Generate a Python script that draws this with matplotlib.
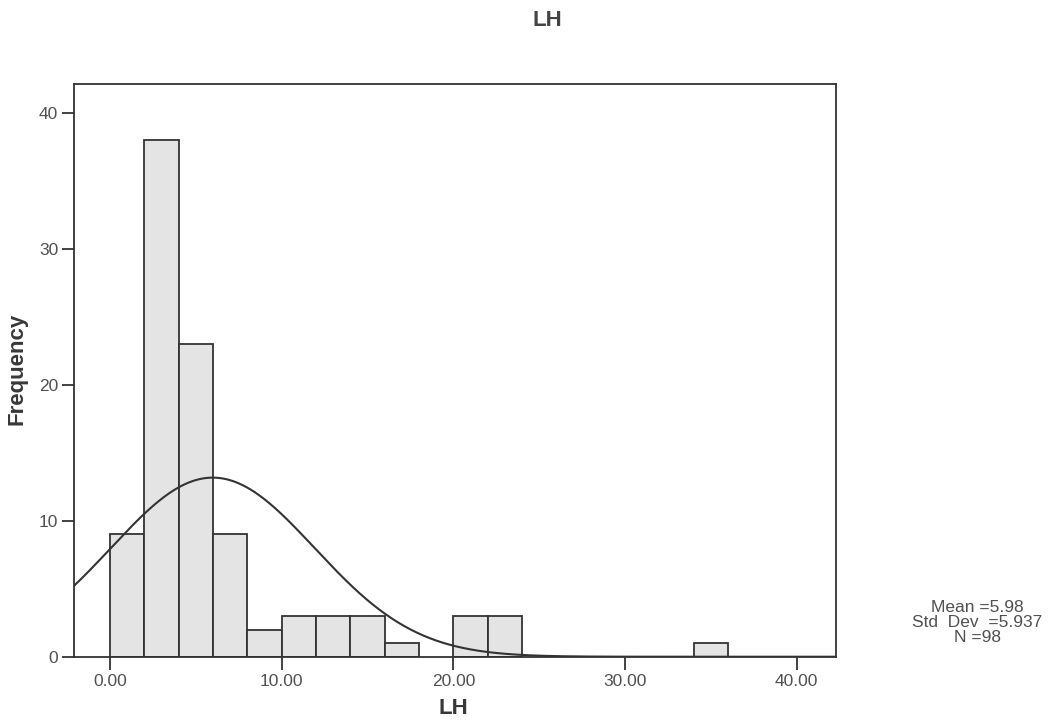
import numpy as np
import matplotlib
matplotlib.use("Agg")
import matplotlib.pyplot as plt

bin_edges = [0, 2, 4, 6, 8, 10, 12, 14, 16, 18, 20, 22, 24, 26, 28, 30, 32, 34, 36]
counts = [9, 38, 23, 9, 2, 3, 3, 3, 1, 0, 3, 3, 0, 0, 0, 0, 0, 1]
mean_val = 5.98
std_val = 5.937
n_val = 98
xticks = [0, 10, 20, 30, 40]
yticks = [0, 10, 20, 30, 40]

plt.rcParams['font.family'] = ['Liberation Sans', 'DejaVu Sans']
fig = plt.figure(figsize=(10.64, 7.22), dpi=100)
ax = fig.add_axes([0.0691, 0.0904, 0.7164, 0.7928])

x_lo, x_hi = -2.13, 42.27
edges = np.array(bin_edges, dtype=float)
widths = np.diff(edges)
for left, w, c in zip(edges[:-1], widths, counts):
    if c > 0:
        ax.bar(left, c, width=w, align='edge', color='#e4e4e4', edgecolor='#333333', linewidth=1.3)

xs = np.linspace(x_lo, x_hi, 600)
bw = widths[0]
ys = n_val * bw / (std_val * np.sqrt(2 * np.pi)) * np.exp(-0.5 * ((xs - mean_val) / std_val) ** 2)
ax.plot(xs, ys, color='#333333', linewidth=1.5)

ax.set_xlim(x_lo, x_hi)
ax.set_ylim(0, 42.09)
ax.set_xticks(xticks)
ax.set_xticklabels([f"{t:.2f}" for t in xticks], color='#505050', fontsize=12.5)
ax.set_yticks(yticks)
ax.set_yticklabels([str(t) for t in yticks], color='#505050', fontsize=12.5)
ax.tick_params(axis='x', direction='out', length=9, width=1.3, color='#333333', pad=3.5)
ax.tick_params(axis='y', direction='out', length=9, width=1.3, color='#333333', pad=2)
for s in ax.spines.values():
    s.set_color('#333333')
    s.set_linewidth(1.3)

xl = ax.set_xlabel('LH', fontsize=16, fontweight='bold', color='#383838')
xl.set_va('center')
ax.xaxis.set_label_coords(0.498, -0.0896)
yl = ax.set_ylabel('Frequency', fontsize=16, fontweight='bold', color='#383838')
yl.set_va('center')
ax.yaxis.set_label_coords(-0.0741, 0.503)

fig.text(0.514, 0.972, 'LH', ha='center', va='center', fontsize=16, fontweight='bold', color='#444444')

fig.text(0.9187, 0.1385, f"Mean ={mean_val}\nStd  Dev  ={std_val}\nN ={n_val}",
         ha='center', va='center', fontsize=12.5, color='#505050', linespacing=1.0)

fig.savefig('out.png', dpi=100, facecolor='white')
